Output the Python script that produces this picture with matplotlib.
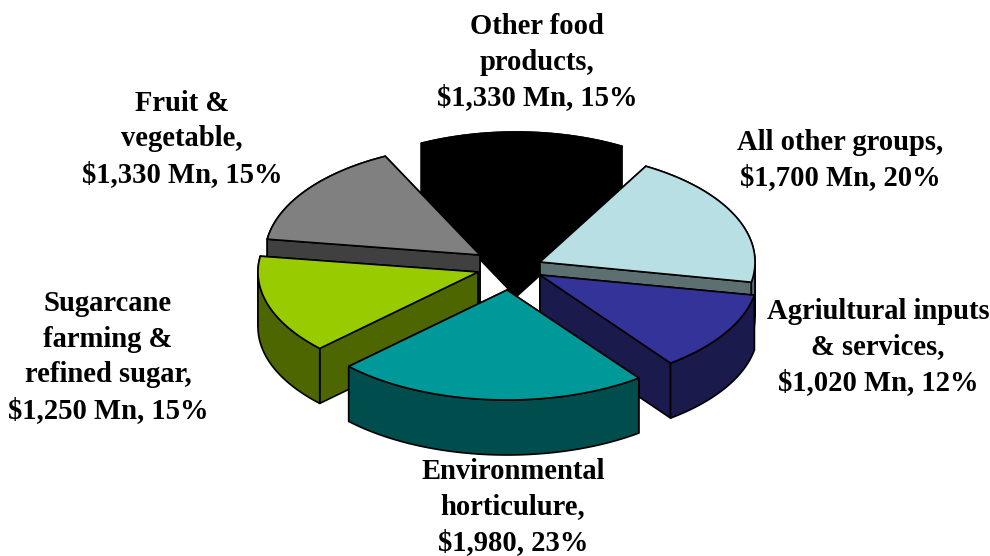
import numpy as np
import matplotlib
matplotlib.use("Agg")
import matplotlib.pyplot as plt
from matplotlib.patches import Polygon

labels = ["Environmental\nhorticulure,\n$1,980, 23%",
          "Agriultural inputs\n& services,\n$1,020 Mn, 12%",
          "All other groups,\n$1,700 Mn, 20%",
          "Other food\nproducts,\n$1,330 Mn, 15%",
          "Fruit &\nvegetable,\n$1,330 Mn, 15%",
          "Sugarcane\nfarming &\nrefined sugar,\n$1,250 Mn, 15%"]
values = [1980, 1020, 1700, 1330, 1330, 1250]
top_colors = ["#009999", "#333399", "#B8E0E4", "#000000", "#808080", "#99CC00"]
wall_colors = ["#004D4D", "#1A1A4D", "#5C7072", "#000000", "#404040", "#4D6600"]

# layout (pixels)
W, H = 990, 556
START = 224.0
RY, DEPTH = 110, 55
radius_x = [220, 218, 215, 215, 215, 220]
apex_x = [507, 540, 540, 516, 480, 478]
apex_y = [290, 275, 262, 242, 255, 272]
draw_order = [3, 4, 2, 5, 1, 0]
label_x = [513, 878, 840, 537, 182, 108]
label_y = [507, 347, 160, 62, 139, 357]

fig = plt.figure(figsize=(W / 100, H / 100), dpi=100)
ax = fig.add_axes([0, 0, 1, 1])
ax.set_xlim(0, W)
ax.set_ylim(H, 0)
ax.axis("off")

fracs = np.array(values) / sum(values) * 360
starts = START + np.concatenate([[0], np.cumsum(fracs)[:-1]])


def arc(cx, cy, rx, a0, a1):
    t = np.radians(np.linspace(a0, a1, 120))
    return np.column_stack([cx + rx * np.cos(t), cy - RY * np.sin(t)]), np.sin(t)


def poly(pts, color):
    ax.add_patch(Polygon(pts, closed=True, facecolor=color, edgecolor="black",
                         linewidth=1.2, joinstyle="round"))


for i in draw_order:
    a0, a1 = starts[i], starts[i] + fracs[i]
    cx, cy = apex_x[i], apex_y[i]
    d = np.array([0, DEPTH])
    a, s = arc(cx, cy, radius_x[i], a0, a1)
    c = np.array([cx, cy])
    back, front = a[s >= 0], a[s < 0]
    if len(back) > 1:
        poly(np.vstack([back, (back + d)[::-1]]), wall_colors[i])
    ends = sorted([a[0], a[-1]], key=lambda p: p[1])
    for p in ends:
        poly([c, p, p + d, c + d], wall_colors[i])
    if len(front) > 1:
        poly(np.vstack([front, (front + d)[::-1]]), wall_colors[i])
    poly(np.vstack([[c], a]), top_colors[i])

for t, x, y in zip(labels, label_x, label_y):
    ax.text(x, y, t, ha="center", va="center", family="Liberation Serif",
            weight="bold", fontsize=20.6, linespacing=1.4, color="black")

fig.savefig("out.png", dpi=100)
